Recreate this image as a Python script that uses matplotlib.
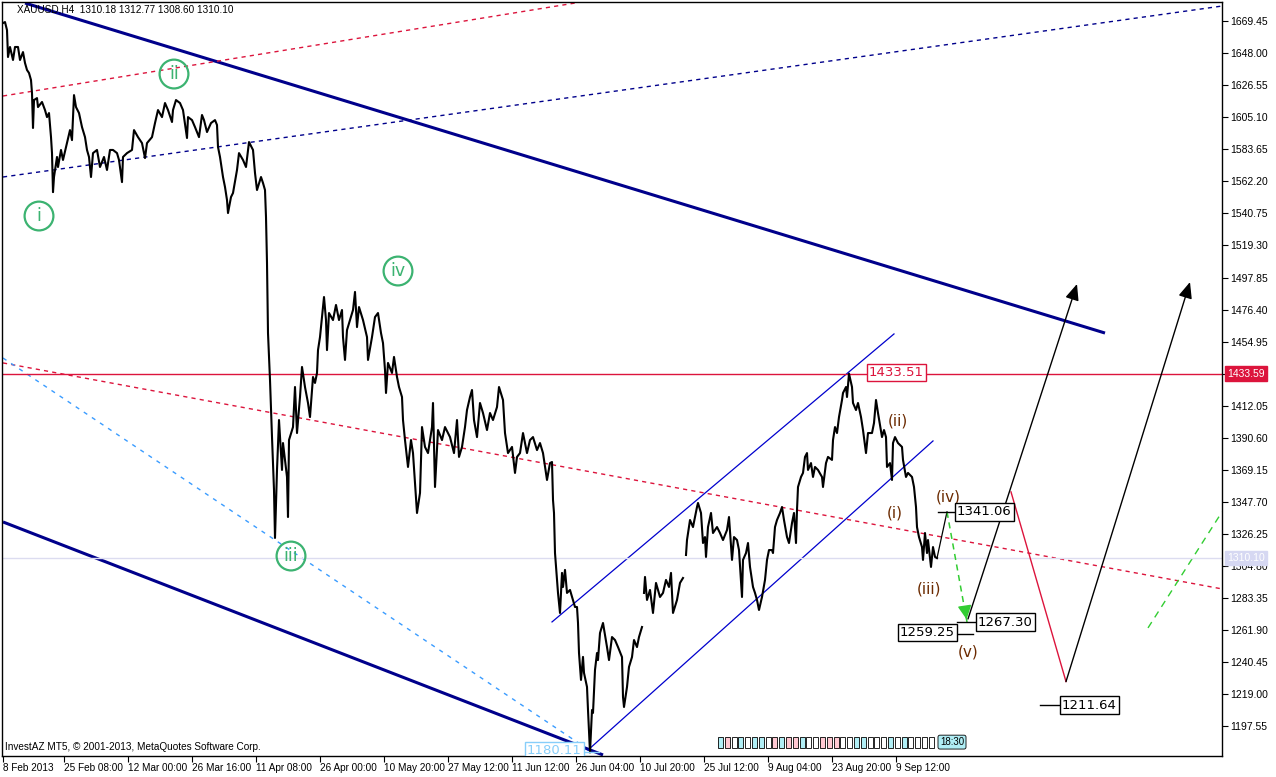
import numpy as np
import matplotlib.pyplot as plt
from matplotlib.patches import Rectangle

plt.rcParams['font.family'] = ['DejaVu Sans']

# XAUUSD H4 price path: bar number and price (nan = gap in the feed)
bars = [0, 2, 4, 5, 7, 10, 12, 15, 17, 20, 22, 24, 26, 28, 29, 30, 31, 34, 35, 39,
        42, 44, 46, 48, 49, 50, 51, 54, 55, 58, 60, 64, 67, 69, 71, 73, 76, 79, 82, 84,
        86, 88, 90, 94, 97, 101, 104, 107, 110, 114, 116, 119, 120, 124, 129, 131, 135, 139, 142, 144,
        149, 152, 155, 159, 162, 165, 169, 170, 173, 177, 180, 184, 185, 189, 192, 196, 199, 201, 204, 208,
        212, 214, 215, 217, 220, 222, 224, 225, 228, 230, 234, 236, 240, 243, 246, 250, 252, 254, 258, 260,
        262, 263, 264, 265, 267, 269, 271, 272, 274, 276, 279, 280, 284, 285, 286, 290, 292, 294, 297, 299,
        302, 305, 307, 310, 312, 314, 315, 317, 320, 321, 323, 324, 326, 330, 333, 336, 339, 340, 342, 344,
        347, 350, 352, 354, 356, 360, 364, 365, 369, 372, 375, 378, 380, 382, 383, 385, 389, 391, 394, 396,
        399, 400, 402, 405, 408, 410, 414, 417, 419, 422, 425, 429, 430, 432, 435, 439, 442, 447, 451, 454,
        456, 459, 462, 464, 467, 469, 471, 474, 477, 480, 484, 487, 490, 494, 496, 500, 502, 505, 509, 512,
        514, 517, 520, 524, 527, 530, 534, 537, 540, 544, 547, 549, 550, 551, 552, 554, 555, 557, 559, 560,
        562, 564, 567, 570, 572, 574, 575, 576, 578, 580, 581, 584, 585, 587, 589, 590, 592, 594, 595, 597,
        600, 604, 606, 609, 612, 615, 619, 620, 621, 624, 626, 629, 631, 634, 636, 639, 640, 641, 642, 644,
        647, 650, 653, 657, 660, 663, 666, 668, 670, 674, 677, 680, 681, 683, 684, 687, 690, 694, 695, 698,
        700, 702, 703, 705, 708, 710, 714, 717, 720, 724, 726, 729, 731, 734, 736, 739, 740, 743, 745, 747,
        750, 752, 754, 756, 759, 762, 764, 766, 769, 770, 772, 774, 777, 779, 781, 784, 786, 789, 791, 793,
        794, 795, 798, 800, 802, 804, 805, 808, 810, 812, 815, 819, 820, 823, 825, 829, 830, 832, 834, 836,
        839, 840, 843, 844, 846, 849, 850, 853, 855, 858, 860, 863, 865, 869, 871, 873, 875, 879, 881, 883,
        884, 887, 889, 890, 892, 895, 899, 900, 903, 905, 909, 911, 913, 914, 916, 919, 920, 922, 924, 925,
        928, 930, 932, 934]
prices = [1668.1, 1668.8, 1663.4, 1645.4, 1652.1, 1643.4, 1652.1, 1652.1, 1643.4, 1648.7,
          1641.4, 1636.7, 1634.7, 1630.0, 1621.3, 1597.9, 1616.6, 1617.9, 1611.9, 1615.3,
          1609.9, 1605.2, 1607.9, 1591.8, 1581.1, 1555.0, 1565.1, 1578.5, 1571.8, 1583.2,
          1576.5, 1587.8, 1596.5, 1589.8, 1619.9, 1611.9, 1607.9, 1598.5, 1591.8, 1583.2,
          1578.5, 1565.1, 1581.1, 1583.2, 1571.8, 1578.5, 1569.8, 1583.2, 1583.2, 1581.1,
          1576.5, 1561.7, 1578.5, 1581.1, 1583.2, 1596.5, 1591.8, 1587.8, 1577.8, 1587.8,
          1591.8, 1601.2, 1609.9, 1605.2, 1614.6, 1609.9, 1601.9, 1609.9, 1616.6, 1614.6,
          1609.9, 1591.2, 1605.2, 1603.2, 1598.5, 1591.8, 1606.6, 1603.2, 1595.2, 1601.2,
          1603.2, 1599.9, 1585.2, 1578.5, 1565.1, 1558.4, 1549.7, 1541.0, 1551.7, 1554.4,
          1569.8, 1581.1, 1576.5, 1571.8, 1588.5, 1583.2, 1567.8, 1556.4, 1565.1, 1561.1,
          1556.4, 1538.3, 1507.6, 1460.7, 1429.3, 1391.1, 1355.7, 1323.6, 1369.1, 1402.5,
          1369.1, 1387.1, 1364.4, 1337.6, 1389.1, 1397.8, 1424.6, 1393.8, 1417.9, 1438.0,
          1424.6, 1413.9, 1404.5, 1431.3, 1427.3, 1434.0, 1449.3, 1458.0, 1478.1, 1484.8,
          1469.4, 1449.3, 1474.1, 1469.4, 1479.5, 1469.4, 1476.1, 1458.0, 1442.7, 1462.7,
          1469.4, 1476.1, 1488.2, 1464.7, 1478.1, 1469.4, 1458.0, 1442.7, 1458.0, 1471.4,
          1474.1, 1460.7, 1454.0, 1436.0, 1420.6, 1440.7, 1434.0, 1444.7, 1431.3, 1424.6,
          1417.9, 1402.5, 1389.1, 1371.1, 1389.1, 1380.4, 1340.3, 1353.7, 1397.8, 1384.5,
          1380.4, 1397.8, 1413.9, 1357.7, 1395.8, 1389.1, 1397.8, 1391.1, 1380.4, 1402.5,
          1377.8, 1384.5, 1397.8, 1409.2, 1417.9, 1422.6, 1402.5, 1391.1, 1413.9, 1407.2,
          1395.8, 1407.2, 1402.5, 1411.2, 1424.6, 1415.9, 1393.8, 1380.4, 1384.5, 1367.1,
          1377.8, 1380.4, 1393.8, 1380.4, 1389.1, 1391.1, 1382.4, 1387.1, 1380.4, 1362.4,
          1373.7, 1374.4, 1349.0, 1340.3, 1313.5, 1295.5, 1286.8, 1273.4, 1300.2, 1290.8,
          1302.2, 1286.8, 1288.8, 1282.1, 1277.4, 1277.4, 1266.7, 1246.6, 1228.6, 1244.0,
          1233.3, 1223.9, 1208.5, 1180.1, 1208.5, 1206.5, 1235.3, 1246.6, 1241.9, 1260.0,
          1266.7, 1250.6, 1241.9, 1257.3, 1255.3, 1250.6, 1243.9, 1217.2, 1210.5, 1223.9,
          1237.3, 1243.9, 1255.3, 1250.6, 1257.3, 1264.0, np.nan, 1286.8, 1297.5, 1282.1,
          1288.8, 1273.4, 1293.5, 1284.1, 1286.8, 1295.5, 1290.8, 1300.2, 1273.4, 1282.1,
          1293.5, 1296.8, np.nan, 1312.2, 1322.2, 1335.6, 1330.9, 1344.3, 1347.0, 1340.3,
          1320.2, 1324.2, 1310.9, 1330.9, 1340.3, 1326.9, 1330.9, 1326.9, 1322.2, 1328.9,
          1337.6, 1308.9, 1324.2, 1322.2, 1315.5, 1284.1, 1308.9, 1313.5, 1320.2, 1304.2,
          1290.8, 1286.8, 1282.1, 1275.4, 1284.1, 1295.5, 1308.9, 1315.5, 1315.5, 1313.5,
          1330.9, 1335.6, 1340.3, 1344.3, 1335.6, 1324.2, 1320.2, 1333.6, 1340.3, 1320.2,
          1342.3, 1357.7, 1364.4, 1367.1, 1377.8, 1380.4, 1369.1, 1373.7, 1364.4, 1371.1,
          1369.1, 1364.4, 1357.7, 1373.7, 1377.8, 1375.8, 1389.1, 1397.8, 1393.8, 1404.5,
          1415.9, 1420.6, 1424.6, 1417.9, 1433.5, 1424.6, 1413.9, 1409.2, 1413.9, 1404.5,
          1395.8, 1380.4, 1393.8, 1393.8, 1400.5, 1415.9, 1407.2, 1391.1, 1395.8, 1391.1,
          1371.1, 1373.7, 1362.4, 1387.1, 1391.1, 1387.1, 1384.5, 1375.8, 1364.4, 1367.1,
          1364.4, 1357.7, 1344.3, 1330.9, 1324.2, 1317.5, 1308.9, 1326.9, 1313.5, 1322.2,
          1304.2, 1317.5, 1310.9, 1310.1]

date_labels = ["8 Feb 2013", "25 Feb 08:00", "12 Mar 00:00", "26 Mar 16:00", "11 Apr 08:00",
               "26 Apr 00:00", "10 May 20:00", "27 May 12:00", "11 Jun 12:00", "26 Jun 04:00",
               "10 Jul 20:00", "25 Jul 12:00", "9 Aug 04:00", "23 Aug 20:00", "9 Sep 12:00"]
date_bars = [0, 61, 125, 189, 253, 317, 381, 445, 509, 573, 637, 701, 765, 829, 893]

price_ticks = [1197.55, 1219.00, 1240.45, 1261.90, 1283.35, 1304.80, 1326.25, 1347.70,
               1369.15, 1390.60, 1412.05, 1433.50, 1454.95, 1476.40, 1497.85, 1519.30,
               1540.75, 1562.20, 1583.65, 1605.10, 1626.55, 1648.00, 1669.45]

# drawn objects, each as bars / prices of its two anchors
fan_top = ([22, 1102], [1681.5, 1460.7])
fan_bottom = ([0, 600], [1334.3, 1178.4])
red_dash_top = ([0, 572], [1619.3, 1681.5])
navy_dash_top = ([0, 1219], [1565.1, 1679.5])
red_dash_mid = ([0, 1219], [1440.7, 1289.5])
blue_dash = ([0, 580], [1444.0, 1184.4])
channel_up = ([549, 891], [1267.4, 1460.1])
channel_low = ([585, 930], [1181.7, 1388.5])
green_dash_right = ([1145, 1219], [1263.4, 1341.0])

last_close = 1310.10
resistance = 1433.59

# wave projection
proj_black = ([934, 944], [1310.10, 1341.06])
proj_green = ([944, 964], [1341.06, 1267.30])
arrow_a = ([965, 1074], [1269.4, 1493.5])
proj_red = ([1008, 1063], [1354.4, 1227.5])
arrow_b = ([1063, 1187], [1227.5, 1494.8])

# circled wave counts (green) and minor counts (brown)
major_labels = ["i", "ii", "iii", "iv"]
major_bars = [36, 171, 288, 395]
major_prices = [1539.0, 1634.0, 1311.5, 1502.2]
minor_labels = ["(i)", "(ii)", "(iii)", "(iv)", "(v)"]
minor_bars = [892, 895, 926, 945, 965]
minor_prices = [1340.3, 1401.9, 1289.4, 1351.0, 1247.3]

W, H = 1276, 777
fig = plt.figure(figsize=(W / 100, H / 100), dpi=100)
ax = fig.add_axes([2 / W, 21 / H, 1220 / W, 754 / H])
ax.set_xlim(-1, 1219)
ax.set_ylim(1177.7, 1682.2)

navy = '#00008b'
crimson = '#dc143c'
green = '#3cb371'
brown = '#6b2a00'
ui_font = 'Liberation Sans'

ax.plot(*fan_top, color=navy, lw=2.2, solid_capstyle='butt')
ax.plot(*fan_bottom, color=navy, lw=2.2, solid_capstyle='butt')
ax.plot(*red_dash_top, color=crimson, lw=1, ls=(0, (3, 3)))
ax.plot(*navy_dash_top, color=navy, lw=1, ls=(0, (3, 3)))
ax.plot(*red_dash_mid, color=crimson, lw=1, ls=(0, (3, 3)))
ax.plot(*blue_dash, color='#3a9cff', lw=1, ls=(0, (3, 4)))
ax.plot(*channel_up, color='#0000cd', lw=0.9)
ax.plot(*channel_low, color='#0000cd', lw=0.9)
ax.plot(*green_dash_right, color='#32cd32', lw=1, ls=(0, (5, 4)))

ax.axhline(resistance, color=crimson, lw=1)
ax.axhline(last_close, color='#dcdcf0', lw=1)

ax.plot(bars, prices, color='black', lw=1.5)

# projection
ax.plot(*proj_black, color='black', lw=0.9)
ax.plot(*proj_green, color='#32cd32', lw=1.1, ls=(0, (4, 3)))
ax.annotate('', xy=(proj_green[0][1], proj_green[1][1]), xytext=(proj_green[0][1] - 2, proj_green[1][1] + 9),
            arrowprops=dict(arrowstyle='-|>,head_length=0.6,head_width=0.3', color='#32cd32', lw=1, mutation_scale=14))
ax.plot(*proj_red, color=crimson, lw=1)
for arr in (arrow_a, arrow_b):
    ax.annotate('', xy=(arr[0][1], arr[1][1]), xytext=(arr[0][0], arr[1][0]),
                arrowprops=dict(arrowstyle='-|>,head_length=0.7,head_width=0.3', color='black', lw=1,
                                mutation_scale=14, shrinkA=0, shrinkB=0))

# wave labels
ax.scatter(major_bars, major_prices, s=430, facecolors='none', edgecolors=green, linewidths=1.6, zorder=5)
for t, b, p in zip(major_labels, major_bars, major_prices):
    ax.text(b, p, t, color=green, fontsize=12.5, ha='center', va='center', zorder=6)
for t, b, p in zip(minor_labels, minor_bars, minor_prices):
    ax.text(b, p, t, color=brown, fontsize=11, ha='center', va='center', zorder=6)

# price level boxes
box = dict(boxstyle='square,pad=0.18', fc='white', ec='black', lw=1)
ax.plot([935, 952], [1341.06, 1341.06], color='black', lw=1)
ax.text(954, 1341.06, '1341.06', fontsize=9.5, ha='left', va='center', bbox=box, zorder=7)
ax.plot([954, 973], [1267.30, 1267.30], color='black', lw=1)
ax.text(975, 1267.30, '1267.30', fontsize=9.5, ha='left', va='center', bbox=box, zorder=7)
ax.plot([954, 970], [1259.25, 1259.25], color='black', lw=1)
ax.text(952, 1260.3, '1259.25', fontsize=9.5, ha='right', va='center', bbox=box, zorder=7)
ax.plot([1037, 1057], [1211.64, 1211.64], color='black', lw=1)
ax.text(1059, 1211.64, '1211.64', fontsize=9.5, ha='left', va='center', bbox=box, zorder=7)
ax.text(866, 1434.6, '1433.51', fontsize=9.5, color=crimson, ha='left', va='center',
        bbox=dict(boxstyle='square,pad=0.15', fc='white', ec=crimson, lw=1), zorder=7)
ax.plot([578, 596], [1180.5, 1180.5], color='#87cefa', lw=1)
ax.text(524, 1181.2, '1180.11', fontsize=9.5, color='#87cefa', ha='left', va='center',
        bbox=dict(boxstyle='square,pad=0.15', fc='white', ec='#87cefa', lw=1), zorder=7, clip_on=True)

# trade history strip at the bottom
strip_colors = ['#b0eef5', '#ffc8d2', '#ffffff', '#b0eef5', '#ffffff', '#b0eef5', '#b0eef5', '#ffffff',
                '#ffc8d2', '#b0eef5', '#ffc8d2', '#ffc8d2', '#b0eef5', '#ffffff', '#ffffff', '#ffc8d2',
                '#ffc8d2', '#ffc8d2', '#ffffff', '#ffffff', '#b0eef5', '#b0eef5', '#ffffff', '#ffffff',
                '#ffffff', '#b0eef5', '#ffffff', '#b0eef5', '#ffffff', '#ffffff', '#ffffff', '#ffffff']
for i, c in enumerate(strip_colors):
    ax.add_patch(Rectangle((715 + i * 6.8, 1183.2), 5, 7.5, fc=c, ec='black', lw=0.6, zorder=4))
ax.text(949, 1187.0, '18:30', fontsize=7, family=ui_font, ha='center', va='center', zorder=5,
        bbox=dict(boxstyle='round,pad=0.2', fc='#b0eef5', ec='black', lw=0.6))

# header and footer
ax.text(15 / 1220, 1 - 8 / 754, 'XAUUSD,H4  1310.18 1312.77 1308.60 1310.10', transform=ax.transAxes,
        fontsize=7.2, family=ui_font, va='center', ha='left')
ax.text(3 / 1220, 9 / 754, 'InvestAZ MT5, \u00a9 2001-2013, MetaQuotes Software Corp.', transform=ax.transAxes,
        fontsize=7.2, family=ui_font, va='center', ha='left')

# axes
ax.yaxis.tick_right()
ax.set_yticks(price_ticks)
# the 1433.50 tick sits under the red price tag, as on the terminal
ax.set_yticklabels(['' if abs(v - resistance) < 1 else '%.2f' % v for v in price_ticks])
ax.tick_params(axis='y', direction='out', length=4, labelsize=7.5, pad=2, width=0.8)
ax.set_xticks(date_bars)
ax.set_xticklabels(date_labels)
ax.tick_params(axis='x', direction='out', length=4, labelsize=7.2, pad=1, width=0.8)
for lbl in ax.get_xticklabels() + ax.get_yticklabels():
    lbl.set_family(ui_font)
for lbl in ax.get_xticklabels():
    lbl.set_ha('left')
for s in ax.spines.values():
    s.set_linewidth(1)

yax = ax.get_yaxis_transform()
ax.text(1.004, resistance, '%.2f' % resistance, transform=yax, fontsize=7.5, family=ui_font, color='white',
        ha='left', va='center', clip_on=False, bbox=dict(boxstyle='square,pad=0.2', fc=crimson, ec=crimson))
ax.text(1.004, last_close, '%.2f' % last_close, transform=yax, fontsize=7.5, family=ui_font, color='white',
        ha='left', va='center', clip_on=False, bbox=dict(boxstyle='square,pad=0.2', fc='#d6d8f2', ec='#d6d8f2'))

plt.savefig('out.png', dpi=100)
